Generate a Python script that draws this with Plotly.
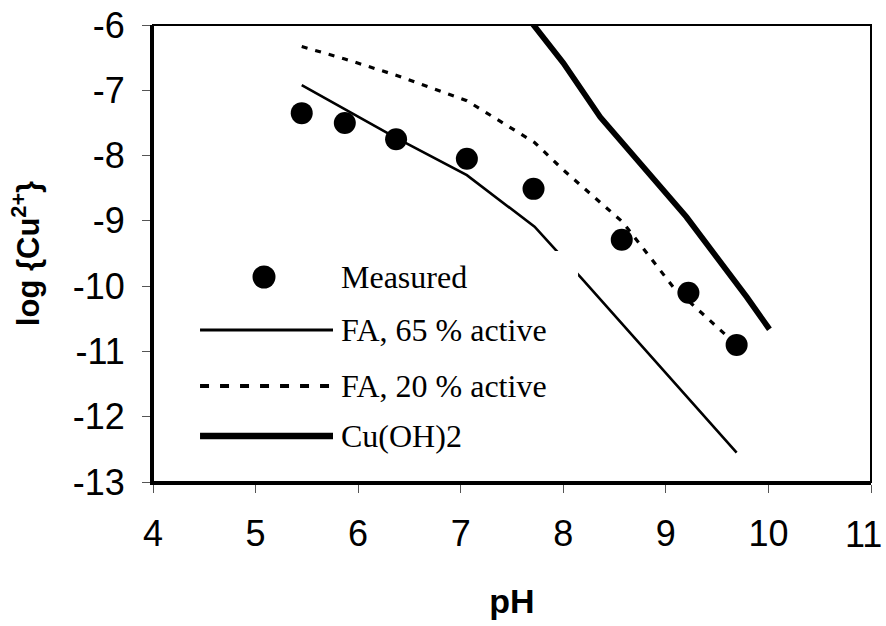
import plotly.graph_objects as go

# ---- data ----
ph_measured = [5.45, 5.87, 6.37, 7.06, 7.71, 8.57, 9.22, 9.69]
cu_measured = [-7.35, -7.50, -7.75, -8.05, -8.51, -9.29, -10.10, -10.90]

ph_fa65 = [5.45, 6.37, 7.06, 7.72, 8.19, 8.58, 9.24, 9.69]
cu_fa65 = [-6.92, -7.73, -8.30, -9.09, -9.90, -10.59, -11.76, -12.55]

ph_fa20 = [5.45, 5.87, 6.37, 7.06, 7.72, 8.00, 8.58, 9.07, 9.69]
cu_fa20 = [-6.33, -6.52, -6.77, -7.16, -7.80, -8.22, -9.02, -10.01, -10.90]

ph_cuoh2 = [7.70, 8.00, 8.36, 9.20, 9.79, 10.01]
cu_cuoh2 = [-5.98, -6.58, -7.41, -8.94, -10.17, -10.66]

x_tick_vals = [4, 5, 6, 7, 8, 9, 10, 11]
x_tick_text = ["4", "5", "6", "7", "8", "9", "10", "11"]
y_tick_vals = [-6, -7, -8, -9, -10, -11, -12, -13]
y_tick_text = ["-6", "-7", "-8", "-9", "-10", "-11", "-12", "-13"]

legend_labels = ["Measured", "FA, 65 % active", "FA, 20 % active", "Cu(OH)2"]

fig = go.Figure()
fig.add_trace(go.Scatter(x=ph_fa65, y=cu_fa65, mode="lines", name=legend_labels[1],
                         line=dict(color="black", width=2.6)))
fig.add_trace(go.Scatter(x=ph_fa20, y=cu_fa20, mode="lines", name=legend_labels[2],
                         line=dict(color="black", width=3.2, dash="6px,8px")))
fig.add_trace(go.Scatter(x=ph_cuoh2, y=cu_cuoh2, mode="lines", name=legend_labels[3],
                         line=dict(color="black", width=5.8)))
fig.add_trace(go.Scatter(x=ph_measured, y=cu_measured, mode="markers", name=legend_labels[0],
                         marker=dict(color="black", size=22, line=dict(width=0))))

# ---- hand-drawn legend block (white box occludes lines like the original) ----
shapes = [
    dict(type="rect", xref="paper", yref="paper", x0=0.045, x1=0.592, y0=0.026, y1=0.5055,
         fillcolor="white", line=dict(width=0), layer="above"),
    dict(type="circle", xref="paper", yref="paper", x0=0.1546 - 0.016, x1=0.1546 + 0.016,
         y0=0.4486 - 0.0252, y1=0.4486 + 0.0252, fillcolor="black", line=dict(width=0), layer="above"),
    dict(type="line", xref="paper", yref="paper", x0=0.0655, x1=0.2507, y0=0.3326, y1=0.3326,
         line=dict(color="black", width=3), layer="above"),
    dict(type="line", xref="paper", yref="paper", x0=0.0655, x1=0.2507, y0=0.2101, y1=0.2101,
         line=dict(color="black", width=4, dash="9px,11px"), layer="above"),
    dict(type="line", xref="paper", yref="paper", x0=0.0655, x1=0.2507, y0=0.1007, y1=0.1007,
         line=dict(color="black", width=6.5), layer="above"),
    # thin frame on top and right
    dict(type="rect", xref="paper", yref="paper", x0=0, x1=1, y0=0, y1=1,
         line=dict(color="black", width=2), layer="above"),
]
leg_y = [0.4486, 0.3326, 0.2101, 0.1007]
annotations = []
for lab, yy in zip(legend_labels, leg_y):
    annotations.append(dict(xref="paper", yref="paper", x=0.259, y=yy, text=lab, showarrow=False,
                            xanchor="left", yanchor="middle",
                            font=dict(family="Liberation Serif, Times New Roman, serif", size=32, color="black")))

# last x tick label drawn right-aligned so it stays inside the page (as in the original)
annotations.append(dict(xref="x", yref="paper", x=x_tick_vals[-1], y=0, text=x_tick_text[-1],
                        showarrow=False, xanchor="right", yanchor="middle", xshift=13, yshift=-52,
                        font=dict(family="Liberation Sans, Arial, sans-serif", size=36, color="black")))

fig.update_layout(
    width=886, height=626,
    margin=dict(l=153, r=15, t=25, b=144),
    paper_bgcolor="white", plot_bgcolor="white",
    showlegend=False,
    shapes=shapes, annotations=annotations,
    font=dict(family="Liberation Sans, Arial, sans-serif", color="black"),
)
fig.update_xaxes(range=[4, 11], tickvals=x_tick_vals, ticktext=x_tick_text[:-1] + [""], automargin=False,
                 ticks="outside", ticklen=8, tickwidth=1, tickcolor="#555555",
                 showline=True, linewidth=3, linecolor="black", showgrid=False, zeroline=False,
                 tickfont=dict(size=36), ticklabelstandoff=10,
                 title=dict(text="<b>pH</b>", font=dict(size=34), standoff=36))
fig.update_yaxes(range=[-13, -6], tickvals=y_tick_vals, ticktext=y_tick_text, automargin=False,
                 ticks="outside", ticklen=8, tickwidth=1, tickcolor="#555555",
                 showline=True, linewidth=3, linecolor="black", showgrid=False, zeroline=False,
                 tickfont=dict(size=36), ticklabelstandoff=10,
                 title=dict(text="<b>log {Cu<sup>2+</sup>}</b>", font=dict(size=31), standoff=24))

fig.write_html("out.html")
